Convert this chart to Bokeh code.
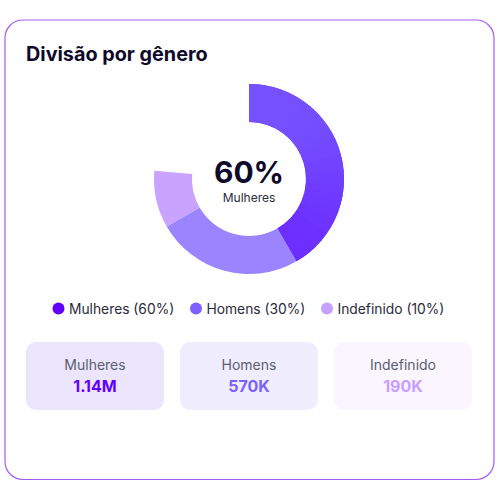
from bokeh.plotting import figure
from bokeh.embed import file_html
from bokeh.resources import INLINE
from bokeh.models import Range1d
from bokeh.core.properties import value
import numpy as np

categories = ["Mulheres", "Homens", "Indefinido"]
shares = [60, 30, 10]
totals = ["1.14M", "570K", "190K"]
sweep_degrees = [150, 90, 35]
wedge_colors = ["#7240ff", "#9a85ff", "#c9a3ff"]
dot_colors = ["#6200ff", "#7b61ff", "#c79fff"]
card_colors = ["#ece5fe", "#f0edff", "#faf5ff"]
title_text = "Divisão por gênero"

FONT = value("Inter")
DARK = "#0f0a2a"

p = figure(width=500, height=500, output_backend="svg", toolbar_location=None,
           x_range=Range1d(0.5, 500.5), y_range=Range1d(500.5, 0.5), min_border=0)
p.styles = {"position": "absolute", "left": "0px", "top": "0px"}
p.axis.visible = False
p.grid.visible = False
p.outline_line_color = None
p.background_fill_color = "#ffffff"
p.border_fill_color = "#ffffff"

# card outline
p.quad(left=[5], right=[494], top=[20], bottom=[479.5], fill_color="#ffffff",
       line_color="#a55af7", line_width=1.2, border_radius=18)

# donut: starts at 12 o'clock and runs clockwise
cx, cy = 249, 179
ends = np.cumsum(sweep_degrees)
starts = ends - np.array(sweep_degrees)
p.annular_wedge(x=[cx] * 3, y=[cy] * 3, inner_radius=57, outer_radius=95,
                start_angle=np.radians(90 - starts), end_angle=np.radians(90 - ends),
                direction="clock", fill_color=wedge_colors, line_color=None)

# shading over the largest slice (light at the top, deep at the bottom)
n = 30
edges = np.linspace(starts[0], ends[0], n + 1)
light, deep = np.array([0x76, 0x50, 0xff]), np.array([0x68, 0x22, 0xff])
mid = np.radians((edges[:-1] + edges[1:]) / 2)
t = np.clip((1 - np.cos(mid)) / 2 * 1.0 + 0.25 * (np.sin(mid) - 1), 0, 1) ** 1.5
shade = ["#%02x%02x%02x" % tuple(int(v) for v in light + (deep - light) * k) for k in t]
p.annular_wedge(x=[cx] * n, y=[cy] * n, inner_radius=57, outer_radius=95,
                start_angle=np.radians(90 - edges[:-1]),
                end_angle=np.radians(90 - np.minimum(edges[1:] + 0.6, ends[0])),
                direction="clock", fill_color=shade, line_color=None)

p.text([cx], [172], text=[f"{shares[0]}%"], text_font=FONT, text_font_size="30px",
       text_font_style="bold", text_color=DARK, text_align="center", text_baseline="middle")
p.text([cx], [197], text=[categories[0]], text_font=FONT, text_font_size="12px",
       text_color="#2a2a3a", text_align="center", text_baseline="middle")

p.text([26], [54], text=[title_text], text_font=FONT, text_font_size="19.8px",
       text_font_style="bold", text_color=DARK, text_align="left", text_baseline="middle")

# legend
dot_x = [58.5, 196, 327]
p.scatter(dot_x, [308.5] * 3, size=12, marker="circle", fill_color=dot_colors, line_color=None)
p.text([x + 10.5 for x in dot_x], [308.5] * 3,
       text=[f"{c} ({s}%)" for c, s in zip(categories, shares)],
       text_font=FONT, text_font_size="13.8px", text_color="#2a2a3a",
       text_align="left", text_baseline="middle")

# stat cards
lefts = [26, 180, 334]
p.quad(left=lefts, right=[x + 138 for x in lefts], top=[342] * 3, bottom=[410] * 3,
       fill_color=card_colors, line_color=None, border_radius=10)
mids = [x + 69 for x in lefts]
p.text(mids, [364] * 3, text=categories, text_font=FONT, text_font_size="14px",
       text_color="#5b6070", text_align="center", text_baseline="middle")
p.text(mids, [386] * 3, text=totals, text_font=FONT, text_font_size="16px",
       text_font_style="bold", text_color=dot_colors, text_align="center", text_baseline="middle")

open("out.html", "w").write(file_html(p, INLINE))
